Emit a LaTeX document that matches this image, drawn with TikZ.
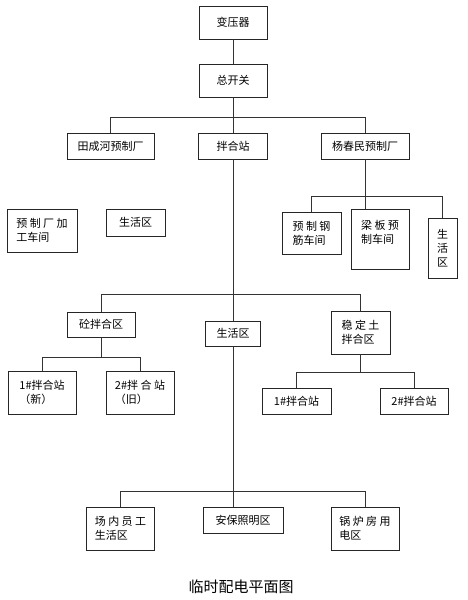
\documentclass[tikz,border=0pt]{standalone}
\usepackage{fontspec}
\setmainfont{Noto Sans CJK SC}
\usetikzlibrary{positioning}

\begin{document}
\begin{tikzpicture}[x=1pt, y=-1pt,
    font=\fontsize{11}{14}\selectfont,
    base/.style={draw=black!85, line width=0.8pt, inner sep=0pt, align=left},
    unit/.style={base, minimum width=68, minimum height=26},
    wire/.style={draw=black!80, line width=0.8pt}]
\useasboundingbox (0,0) rectangle (467,600);

\node [unit, minimum height=33] (byq) at (233,22.5) {变压器};
\node [unit, minimum height=33] (zkg) at (233,80.5) {总开关};
\node [unit, minimum width=87] (tch) at (110.5,146) {田成河预制厂};
\node [unit, minimum width=69] (bhz) at (233,146) {拌合站};
\node [unit, minimum width=88] (ycm) at (365,146) {杨春民预制厂};
\node [unit, minimum width=70, minimum height=43] (jgcj) at (42,230.5) {预 制 厂 加\\工车间};
\node [unit, minimum width=59, minimum height=27] (shq1) at (135.5,222.5) {生活区};
\node [unit, minimum width=59, minimum height=42] (yzgj) at (311.5,233) {预 制 钢\\筋车间};
\node [unit, minimum width=58, minimum height=60] (lbyz) at (380,239) {梁 板 预\\制车间\\\mbox{}};
\node [unit, minimum width=29, minimum height=60] (shq3) at (442.5,248) {生\\活\\区};
\node [unit, minimum height=25] (thq) at (101,324.5) {砼拌合区};
\node [unit, minimum width=55, minimum height=25] (shq2) at (233,333.5) {生活区};
\node [unit, minimum width=59, minimum height=43] (wdt) at (360.5,332.5) {稳 定 土\\拌合区};
\node [unit, minimum height=43] (t1) at (42,392.5) {1\#拌合站\\ （新）};
\node [unit, minimum height=43] (t2) at (140,392.5) {2\#拌 合 站\\（旧）};
\node [unit, minimum width=69] (w1) at (296.5,401) {1\#拌合站};
\node [unit] (w2) at (414,401) {2\#拌合站};
\node [unit, minimum height=43] (cny) at (120.5,528.5) {场 内 员 工\\生活区};
\node [unit, minimum width=80] (abz) at (243,520) {安保照明区};
\node [unit, minimum height=43] (glf) at (365,528.5) {锅 炉 房 用\\电区};
\node [font=\fontsize{15}{18}\selectfont] (title) at (241,587) {临时配电平面图};

\coordinate (bus1) at (233,117);
\coordinate (bus2) at (233,294);
\coordinate (bus3) at (233,491);
\coordinate (bus4) at (365,196);
\coordinate (bus5) at (101,357);
\coordinate (bus6) at (360.5,372);

\draw [wire] (byq) -- (zkg);
\draw [wire] (zkg) -- (bhz);
\draw [wire] (bus1) -| (tch);
\draw [wire] (bus1) -| (ycm);
\draw [wire] (ycm) -- (ycm |- lbyz.north);
\draw [wire] (bus4) -| (yzgj);
\draw [wire] (bus4) -| (shq3);
\draw [wire] (bhz) -- (shq2);
\draw [wire] (bus2) -| (thq);
\draw [wire] (bus2) -| (wdt);
\draw [wire] (thq) -- (bus5);
\draw [wire] (bus5) -| (t1);
\draw [wire] (bus5) -| (t2);
\draw [wire] (wdt) -- (bus6);
\draw [wire] (bus6) -| (w1);
\draw [wire] (bus6) -| (w2);
\draw [wire] (shq2) -- (shq2 |- abz.north);
\draw [wire] (bus3) -| (cny);
\draw [wire] (bus3) -| (glf);

\end{tikzpicture}
\end{document}
